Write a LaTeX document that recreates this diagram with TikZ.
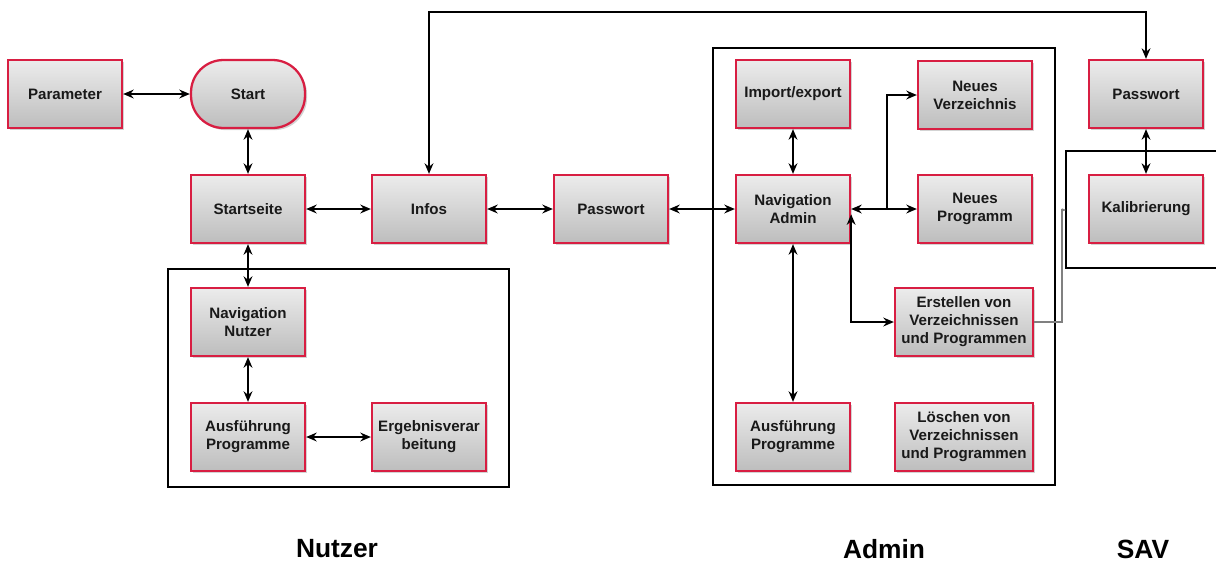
\documentclass[tikz,border=0pt]{standalone}
\usepackage{fontspec}
\setmainfont{Liberation Sans}
\usetikzlibrary{arrows.meta,shadows,calc}
\definecolor{rahmenrot}{HTML}{D81E42}
\definecolor{graubox}{HTML}{BDBDBD}
\tikzset{
  kasten/.style={draw=rahmenrot, line width=1.3pt, minimum width=2.28cm, minimum height=1.36cm,
    top color=gray!15, bottom color=graubox, align=center, text=black!90,
    font=\fontsize{8.6}{10.2}\selectfont\bfseries,
    drop shadow={shadow xshift=1.2pt, shadow yshift=-1.2pt, opacity=0.35}},
  breit/.style={kasten, minimum width=2.76cm},
  pfeil/.style={line width=1.3pt, {Stealth[length=6pt,width=5pt]}-{Stealth[length=6pt,width=5pt]}},
  einpfeil/.style={line width=1.3pt, -{Stealth[length=6pt,width=5pt]}},
  bereich/.style={draw, line width=1.4pt},
  titel/.style={font=\fontsize{15}{18}\selectfont\bfseries, inner sep=1pt}
}
\begin{document}
\begin{tikzpicture}[x=0.02cm, y=-0.02cm]
	\useasboundingbox (0,0) rectangle (1216,562);
	% Bereiche
	\draw[bereich] (168,269) rectangle (509,487);
	\draw[bereich] (713,48) rectangle (1055,485);
	\draw[bereich] (1225,151) -- (1066,151) -- (1066,268) -- (1225,268);

	% Nutzer
	\node[kasten] (param) at (65,94) {Parameter};
	\node[kasten, rounded corners=0.65cm] (start) at (248,94) {Start};
	\node[kasten] (startseite) at (248,209) {Startseite};
	\node[kasten] (infos) at (429,209) {Infos};
	\node[kasten] (passwort) at (611,209) {Passwort};
	\node[kasten] (navnutzer) at (248,322) {Navigation\\Nutzer};
	\node[kasten] (ausfnutzer) at (248,437) {Ausführung\\Programme};
	\node[kasten] (ergebnis) at (429,437) {Ergebnisverar\\beitung};

	% Admin
	\node[kasten] (impexp) at (793,94) {Import/export};
	\node[kasten] (navadmin) at (793,209) {Navigation\\Admin};
	\node[kasten] (neuverz) at (975,95) {Neues\\Verzeichnis};
	\node[kasten] (neuprog) at (975,209) {Neues\\Programm};
	\node[breit] (erstellen) at (964,322) {Erstellen von\\Verzeichnissen\\und Programmen};
	\node[kasten] (ausfadmin) at (793,437) {Ausführung\\Programme};
	\node[breit] (loeschen) at (964,437) {Löschen von\\Verzeichnissen\\und Programmen};

	% SAV
	\node[kasten] (pwsav) at (1146,94) {Passwort};
	\node[kasten] (kalib) at (1146,209) {Kalibrierung};

	\coordinate (oben) at (0,12);
	\coordinate (knick) at (887,209);
	\coordinate (grauknick) at (1062,322);
	\coordinate (savein) at (1066,210);

	% Verbindungen
	\draw[pfeil] (param) -- (start);
	\draw[pfeil] (start) -- (startseite);
	\draw[pfeil] (startseite) -- (infos);
	\draw[pfeil] (infos) -- (passwort);
	\draw[pfeil] (passwort) -- (navadmin);
	\draw[pfeil] (startseite) -- (navnutzer);
	\draw[pfeil] (navnutzer) -- (ausfnutzer);
	\draw[pfeil] (ausfnutzer) -- (ergebnis);
	\draw[pfeil] (impexp) -- (navadmin);
	\draw[pfeil] (navadmin) -- (neuprog);
	\draw[einpfeil] (knick) |- (neuverz.west);
	\draw[pfeil] ([yshift=-3pt]navadmin.east) |- (erstellen.west);
	\draw[pfeil] (navadmin) -- (ausfadmin);
	\draw[pfeil] (pwsav) -- (kalib);
	\draw[pfeil] (infos.north) -- (infos.north |- oben) -- (pwsav.north |- oben) -- (pwsav.north);
	\draw[gray, line width=0.6pt, -{Stealth[length=2.5pt,width=2pt]}] (erstellen.east) -- (grauknick) |- (savein);

	% Titel
	\node[titel] (tnutzer) at (337,549) {Nutzer};
	\node[titel] (tadmin) at (884,549) {Admin};
	\node[titel] (tsav) at (1143,549) {SAV};
\end{tikzpicture}
\end{document}
